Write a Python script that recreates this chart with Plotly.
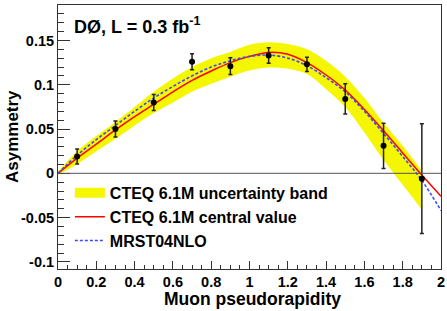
import plotly.graph_objects as go

# ---- data ----
eta_grid = [0.0, 0.1, 0.2, 0.3, 0.4, 0.5, 0.6, 0.7, 0.8, 0.9, 1.0,
            1.1, 1.2, 1.3, 1.4, 1.5, 1.6, 1.7, 1.8, 1.9, 2.0]
cteq_central = [0.0, 0.0172, 0.033, 0.049, 0.064, 0.078, 0.092, 0.105, 0.1155, 0.125, 0.132,
                0.1365, 0.1345, 0.125, 0.111, 0.094, 0.072, 0.048, 0.023, -0.002, -0.026]
mrst = [0.0, 0.0205, 0.038, 0.054, 0.070, 0.085, 0.098, 0.110, 0.120, 0.127, 0.132,
        0.1335, 0.130, 0.1215, 0.108, 0.092, 0.070, 0.045, 0.019, -0.008, -0.042]

band_eta = [0.0, 0.1, 0.2, 0.3, 0.4, 0.5, 0.6, 0.7, 0.8, 0.9, 1.0,
            1.1, 1.2, 1.3, 1.4, 1.5, 1.6, 1.7, 1.8, 1.9]
band_upper = [0.002, 0.025, 0.042, 0.058, 0.075, 0.092, 0.107, 0.120, 0.130, 0.137, 0.145,
              0.148, 0.146, 0.140, 0.127, 0.109, 0.085, 0.057, 0.031, 0.003]
band_lower = [-0.002, 0.0104, 0.025, 0.039, 0.054, 0.068, 0.080, 0.092, 0.101, 0.109, 0.116,
              0.1195, 0.118, 0.112, 0.095, 0.075, 0.046, 0.015, -0.013, -0.041]

data_eta = [0.1, 0.3, 0.5, 0.7, 0.9, 1.1, 1.3, 1.5, 1.7, 1.9]
data_asym = [0.019, 0.050, 0.080, 0.126, 0.121, 0.133, 0.123, 0.084, 0.031, -0.006]
data_err = [0.0085, 0.009, 0.009, 0.009, 0.0095, 0.0088, 0.008, 0.017, 0.0255, 0.062]

x_tickvals = [0, 0.2, 0.4, 0.6, 0.8, 1.0, 1.2, 1.4, 1.6, 1.8, 2.0]
x_ticktext = ["0", "0.2", "0.4", "0.6", "0.8", "1", "1.2", "1.4", "1.6", "1.8", "2"]
y_tickvals = [-0.1, -0.05, 0, 0.05, 0.1, 0.15]
y_ticktext = ["-0.1", "-0.05", "0", "0.05", "0.1", "0.15"]

FONT = "Liberation Sans, Arial, Helvetica, sans-serif"
YELLOW = "#f4f700"

fig = go.Figure()

fig.add_trace(go.Scatter(x=band_eta, y=band_lower, mode="lines",
                         line=dict(width=0, shape="spline", color=YELLOW),
                         showlegend=False, hoverinfo="skip"))
fig.add_trace(go.Scatter(x=band_eta, y=band_upper, mode="lines", fill="tonexty",
                         fillcolor=YELLOW, line=dict(width=0, shape="spline", color=YELLOW),
                         showlegend=False, hoverinfo="skip"))
# legend entry for the band
fig.add_trace(go.Scatter(x=[None], y=[None], mode="lines",
                         line=dict(color=YELLOW, width=13),
                         name="CTEQ 6.1M uncertainty band"))
fig.add_trace(go.Scatter(x=eta_grid, y=cteq_central, mode="lines",
                         line=dict(color="#ff0000", width=1.5, shape="spline"),
                         name="CTEQ 6.1M central value"))
fig.add_trace(go.Scatter(x=eta_grid, y=mrst, mode="lines",
                         line=dict(color="#3f48ff", width=1.6, dash="3px,2px", shape="spline"),
                         name="MRST04NLO"))
fig.add_trace(go.Scatter(x=data_eta, y=data_asym, mode="markers",
                         marker=dict(color="black", size=6),
                         error_y=dict(type="data", array=data_err, color="#222222",
                                      thickness=1.5, width=2),
                         showlegend=False))

axis_common = dict(showline=True, linecolor="#333333", linewidth=1, mirror=True,
                   showgrid=False, zeroline=False, ticks="inside", tickcolor="#333333",
                   tickwidth=1, automargin=False,
                   tickfont=dict(family=FONT, size=14.5, color="black", weight="bold"))

fig.update_xaxes(range=[0, 2], tickmode="array", tickvals=x_tickvals, ticktext=x_ticktext,
                 ticklen=8,
                 minor=dict(ticks="inside", ticklen=4, tickmode="linear", tick0=0, dtick=0.05,
                            tickcolor="#333333", showgrid=False),
                 **axis_common)
fig.update_yaxes(range=[-0.108, 0.19], tickmode="array", tickvals=y_tickvals, ticktext=y_ticktext,
                 ticklen=12,
                 minor=dict(ticks="inside", ticklen=6, tickmode="linear", tick0=0, dtick=0.01,
                            tickcolor="#333333", showgrid=False),
                 **axis_common)

fig.add_shape(type="line", xref="paper", yref="y", x0=0, x1=1, y0=0, y1=0,
              line=dict(color="#555555", width=1), layer="above")

fig.add_annotation(text="DØ, L = 0.3 fb<sup>-1</sup>", xref="paper", yref="paper",
                   x=0.0366, y=0.922, xanchor="left", yanchor="middle", showarrow=False,
                   font=dict(family=FONT, size=18, color="black", weight="bold"))
fig.add_annotation(text="Asymmetry", xref="paper", yref="paper",
                   x=-0.120, y=0.5, xanchor="center", yanchor="middle", textangle=-90,
                   showarrow=False,
                   font=dict(family=FONT, size=17, color="black", weight="bold"))
fig.add_annotation(text="Muon pseudorapidity", xref="paper", yref="paper",
                   x=0.508, y=-0.1136, xanchor="center", yanchor="middle", showarrow=False,
                   font=dict(family=FONT, size=17.5, color="black", weight="bold"))

fig.update_layout(
    width=447, height=311,
    margin=dict(l=58, r=6, t=5, b=42),
    paper_bgcolor="white", plot_bgcolor="white",
    legend=dict(x=0.031, y=0.3525, xanchor="left", yanchor="top",
                bgcolor="rgba(0,0,0,0)", borderwidth=0, traceorder="normal",
                font=dict(family=FONT, size=16, color="black", weight="bold"),
                itemwidth=30, tracegroupgap=0),
)

fig.write_html("out.html", config={"displayModeBar": False},
               post_script="document.body.style.margin='0';document.body.style.overflow='hidden';")
